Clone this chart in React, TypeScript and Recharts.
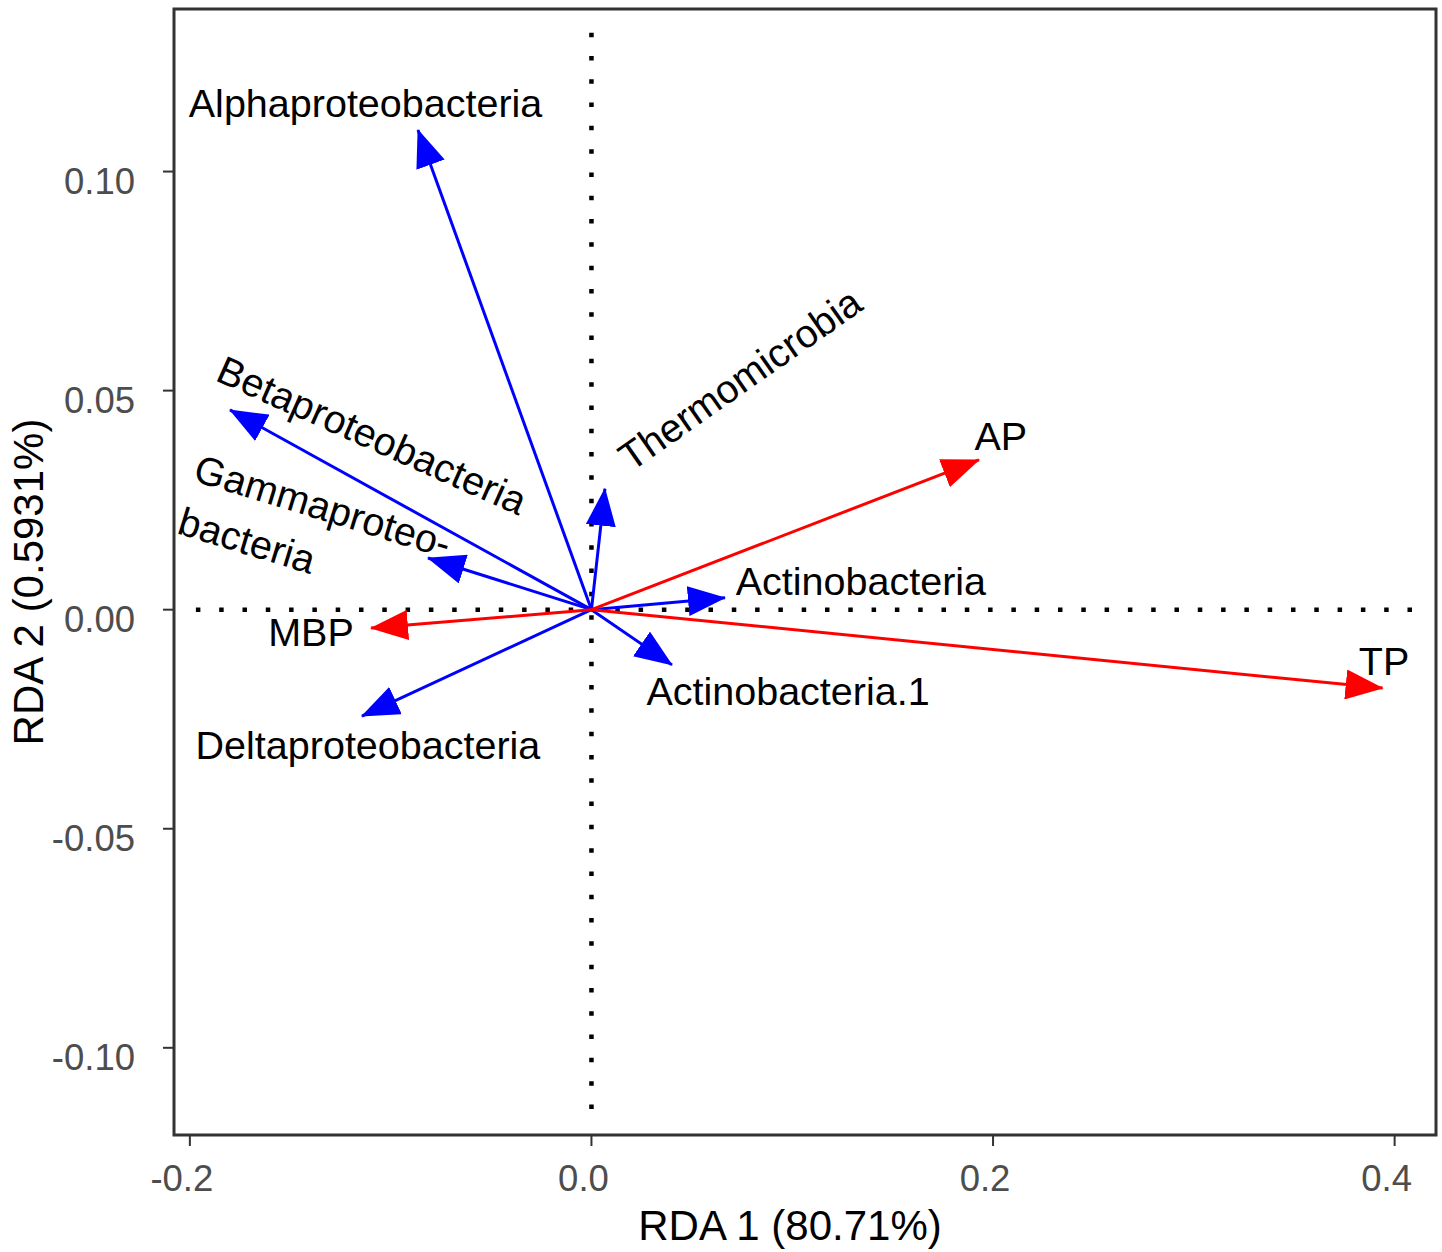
import { ComposedChart, Line, Scatter, XAxis, YAxis, ReferenceLine, ReferenceArea, Label } from "recharts"

// species scores (blue arrows)
const speciesNames = [
  "Alphaproteobacteria",
  "Betaproteobacteria",
  "Gammaproteobacteria",
  "Deltaproteobacteria",
  "Thermomicrobia",
  "Actinobacteria",
  "Actinobacteria.1",
]
const speciesRda1 = [-0.0864, -0.18, -0.0814, -0.1143, 0.0067, 0.0665, 0.0401]
const speciesRda2 = [0.1095, 0.0456, 0.0118, -0.0243, 0.0276, 0.0027, -0.0126]

// environmental variables (red arrows)
const envNames = ["AP", "TP", "MBP"]
const envRda1 = [0.193, 0.394, -0.1098]
const envRda2 = [0.0342, -0.0179, -0.0042]

// text labels placed next to the arrow tips
const labelText = [
  "Alphaproteobacteria",
  "Betaproteobacteria",
  "Gammaproteo-\nbacteria",
  "Deltaproteobacteria",
  "Thermomicrobia",
  "Actinobacteria",
  "Actinobacteria.1",
  "AP",
  "TP",
  "MBP",
]
const labelRda1 = [-0.1125, -0.1093, -0.197, -0.1113, 0.074, 0.1342, 0.0979, 0.2039, 0.3947, -0.1397]
const labelRda2 = [0.1157, 0.0398, 0.0325, -0.0309, 0.0526, 0.0065, -0.0185, 0.0397, -0.0117, -0.0051]
const labelAngle = [0, 24, 17, 0, -35, 0, 0, 0, 0, 0]

const xTicks = [-0.2, 0.0, 0.2, 0.4]
const yTicks = [-0.1, -0.05, 0.0, 0.05, 0.1]

const X_DOMAIN: [number, number] = [-0.2079, 0.4206]
const Y_DOMAIN: [number, number] = [-0.1199, 0.1371]

const FONT = "'Liberation Sans', Arial, Helvetica, sans-serif"
const BLUE = "#0000ff"
const RED = "#ff0000"

const labels = labelText.map((text, i) => ({ x: labelRda1[i], y: labelRda2[i], text, angle: labelAngle[i] }))

function arrowData(x: number, y: number) {
  return [
    { x: 0, y: 0 },
    { x, y },
  ]
}

function XTick(props: any) {
  const { x, y, payload } = props
  return (
    <text x={x - 8} y={y + 43} textAnchor="middle" fontFamily={FONT} fontSize={36.5} fill="#4d4d4d">
      {payload.value.toFixed(1)}
    </text>
  )
}

function YTick(props: any) {
  const { x, y, payload } = props
  return (
    <text x={x - 26} y={y + 22} textAnchor="end" fontFamily={FONT} fontSize={36.5} fill="#4d4d4d">
      {payload.value.toFixed(2)}
    </text>
  )
}

function XTitle(props: any) {
  const vb = props.viewBox
  return (
    <text x={vb.x + vb.width / 2 - 15} y={vb.y + 105} textAnchor="middle" fontFamily={FONT} fontSize={42} fill="#000">
      RDA 1 (80.71%)
    </text>
  )
}

function YTitle(props: any) {
  const vb = props.viewBox
  const cx = vb.x + 43
  const cy = vb.y + vb.height / 2 + 10
  return (
    <text
      x={cx}
      y={cy}
      transform={`rotate(-90, ${cx}, ${cy})`}
      textAnchor="middle"
      fontFamily={FONT}
      fontSize={42}
      fill="#000"
    >
      RDA 2 (0.5931%)
    </text>
  )
}

function ArrowLabel(props: any) {
  const { cx, cy, payload } = props
  const lines: string[] = payload.text.split("\n")
  return (
    <text
      x={cx}
      y={cy}
      transform={payload.angle ? `rotate(${payload.angle}, ${cx}, ${cy})` : undefined}
      textAnchor={lines.length > 1 ? "start" : "middle"}
      fontFamily={FONT}
      fontSize={39.5}
      fill="#000"
    >
      {lines.map((l, i) => (
        <tspan key={i} x={cx} dy={i === 0 ? "0.35em" : "1.39em"}>
          {l}
        </tspan>
      ))}
    </text>
  )
}

export default function App() {
  return (
    <div style={{ position: "absolute", left: 0, top: 0, width: 1442, height: 1252 }}>
      <ComposedChart width={1442} height={1252} margin={{ top: 9, right: 6, bottom: 0, left: 0 }}>
        <defs>
          <marker
            id="headBlue"
            markerUnits="userSpaceOnUse"
            markerWidth={38}
            markerHeight={30}
            viewBox="0 0 38 30"
            refX={37}
            refY={15}
            orient="auto"
          >
            <path d="M0,0 L38,15 L0,30 Z" fill={BLUE} />
          </marker>
          <marker
            id="headRed"
            markerUnits="userSpaceOnUse"
            markerWidth={38}
            markerHeight={30}
            viewBox="0 0 38 30"
            refX={37}
            refY={15}
            orient="auto"
          >
            <path d="M0,0 L38,15 L0,30 Z" fill={RED} />
          </marker>
        </defs>
        <XAxis
          type="number"
          dataKey="x"
          domain={X_DOMAIN}
          ticks={xTicks}
          allowDataOverflow
          axisLine={false}
          tickLine={{ stroke: "#333", strokeWidth: 2 }}
          tickSize={11}
          tick={<XTick />}
          height={117}
        >
          <Label content={<XTitle />} />
        </XAxis>
        <YAxis
          type="number"
          dataKey="y"
          domain={Y_DOMAIN}
          ticks={yTicks}
          allowDataOverflow
          axisLine={false}
          tickLine={{ stroke: "#333", strokeWidth: 2 }}
          tickSize={11}
          tick={<YTick />}
          width={174}
        >
          <Label content={<YTitle />} />
        </YAxis>

        <ReferenceArea
          x1={X_DOMAIN[0]}
          x2={X_DOMAIN[1]}
          y1={Y_DOMAIN[0]}
          y2={Y_DOMAIN[1]}
          fill="none"
          fillOpacity={0}
          stroke="#333"
          strokeWidth={3}
        />
        <ReferenceLine
          segment={[
            { x: -0.197, y: 0 },
            { x: 0.4116, y: 0 },
          ]}
          stroke="#000"
          strokeWidth={4.5}
          strokeDasharray="4.5 18.8"
        />
        <ReferenceLine
          segment={[
            { x: 0, y: 0.1317 },
            { x: 0, y: -0.1151 },
          ]}
          stroke="#000"
          strokeWidth={4.5}
          strokeDasharray="4.5 18.8"
        />

        {speciesNames.map((name, i) => (
          <Line
            key={name}
            data={arrowData(speciesRda1[i], speciesRda2[i])}
            dataKey="y"
            type="linear"
            stroke={BLUE}
            strokeWidth={3}
            dot={false}
            activeDot={false}
            markerEnd="url(#headBlue)"
            isAnimationActive={false}
          />
        ))}
        {envNames.map((name, i) => (
          <Line
            key={name}
            data={arrowData(envRda1[i], envRda2[i])}
            dataKey="y"
            type="linear"
            stroke={RED}
            strokeWidth={3}
            dot={false}
            activeDot={false}
            markerEnd="url(#headRed)"
            isAnimationActive={false}
          />
        ))}

        <Scatter data={labels} dataKey="y" shape={<ArrowLabel />} isAnimationActive={false} />
      </ComposedChart>
    </div>
  )
}
